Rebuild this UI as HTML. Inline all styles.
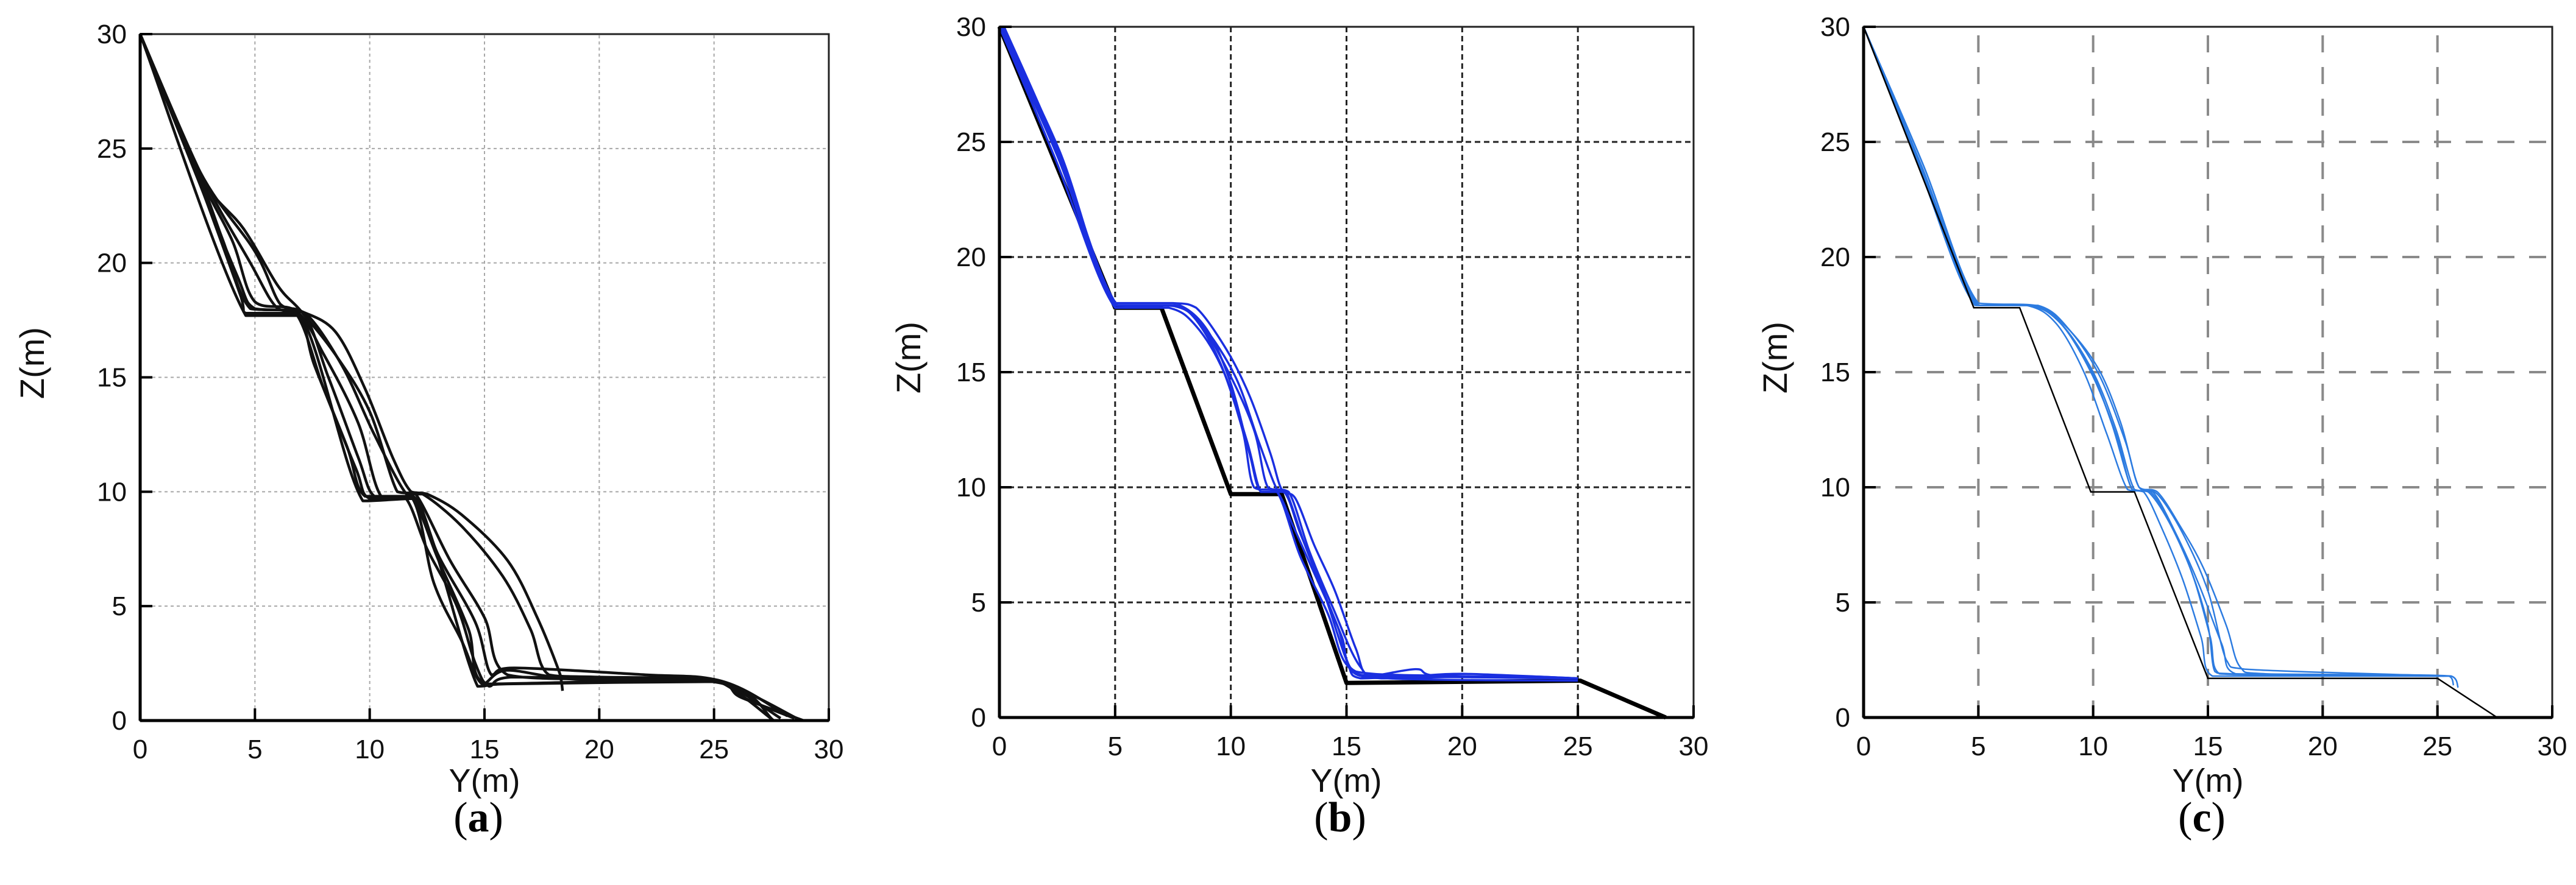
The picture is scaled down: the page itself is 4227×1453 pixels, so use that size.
<!DOCTYPE html>
<html><head><meta charset="utf-8">
<style>
html,body{margin:0;padding:0;background:#fff;}
svg{display:block;}
.sans{font-family:"Liberation Sans",Arial,sans-serif;}
.serif{font-family:"Liberation Serif",serif;}
</style></head>
<body>
<svg id="fig" width="4227" height="1453" viewBox="0 0 4227 1453" xmlns="http://www.w3.org/2000/svg"></svg>
<script>
const xTicks = [0,5,10,15,20,25,30];
const yTicks = [0,5,10,15,20,25,30];
const panelLabels = ["a","b","c"];

const runsA = [
 [[0,30],[4.6,17.7],[7,17.7],[9.7,9.6],[12,9.7],[14.7,1.5],[16,1.6],[25,1.7],[27.6,0]],
 [[0,30],[2.5,24],[4,21],[5,18.3],[6.8,17.9],[8,16],[9.5,13],[10.5,9.8],[11.8,9.8],[13,7],[14.3,4],[15,1.6],[20,1.7],[25,1.8],[28.2,0.2]],
 [[0,30],[2.5,24],[4.5,21.5],[6,19],[7,17.9],[8.5,16],[10,13.5],[11.2,10],[12,9.9],[13.5,7],[15,4.5],[16,2],[20,1.8],[24.8,1.8],[28.8,0]],
 [[0,30],[2.6,24],[5,20.5],[6.1,18.2],[7,17.9],[8.5,17],[9.8,14.5],[11,11.5],[11.8,10],[12.5,9.9],[14,9],[16,7],[17.3,4.5],[18.3,2],[18.4,1.3]],
 [[0,30],[2.6,24],[4.8,20],[6,18],[7.2,17.8],[8.8,15.5],[10.2,12.5],[11.6,9.9],[12.3,9.9],[14,8.5],[15.8,6.3],[17,4],[17.8,2],[20,1.9],[24.8,1.8],[26.5,0.9],[28.5,0.1]],
 [[0,30],[2.3,24.2],[4.2,19.5],[5,18],[7,17.9],[8.2,15],[9.5,11.5],[10.2,9.8],[11.5,9.8],[12.5,7.5],[13.8,5],[14.6,2.5],[15.2,1.5],[16.2,1.9],[22,1.8],[25,1.8],[27.9,0.1]],
 [[0,30],[2.4,24],[4.4,18.5],[4.6,17.8],[6.8,17.8],[7.6,15.5],[9,12],[9.8,9.8],[11.8,9.8],[12.8,6],[14,3.5],[14.9,1.6],[16,2.2],[19,1.8],[24.9,1.7],[26.2,1],[28.9,0]],
 [[0,30],[2.5,24],[3.6,21],[4.8,18],[6.7,17.9],[8,14.5],[9.4,11],[10,9.7],[11.9,9.8],[13,7.2],[14.6,4.3],[15.3,2],[16.3,2.3],[22,2],[25,1.8],[27.6,0]]
];
const refB = [[0,30],[5,17.8],[7,17.8],[10,9.7],[12.2,9.7],[15,1.5],[25.1,1.6],[28.8,0]];
const runsB = [
 [[0.1,30],[2.5,24.5],[5,17.9],[6.5,17.9],[7.8,17.9],[9,16.8],[10,14.5],[10.8,11.5],[11.3,9.8],[12.3,9.8],[13,8],[14,5.5],[15,2.5],[15.6,1.7],[18,1.8],[20,1.9],[25,1.7]],
 [[0.2,30],[2.6,24.5],[5,18],[7.5,18],[8.5,17.8],[9.8,16],[10.8,14],[11.7,11.5],[12.2,9.9],[12.8,9.5],[13.6,7.5],[14.5,5.5],[15.4,3],[16,1.8],[18,2.1],[19,1.8],[25,1.7]],
 [[0,30],[2.4,24.3],[5,17.8],[7.2,17.9],[8.3,17.5],[9.5,15.5],[10.5,12.5],[11,10],[12,9.8],[13,7],[14.2,4.5],[15,2.3],[16.5,1.7],[22,1.8],[25,1.7]],
 [[0,30],[2.5,24.4],[5,17.9],[7.4,17.9],[8.6,17.2],[9.9,15],[11,12.5],[11.6,10],[12.5,9.8],[13.4,7.2],[14.4,4.8],[15.6,2.2],[16.8,1.7],[25,1.6]],
 [[0.1,30],[2.6,24.4],[5.1,17.9],[7.6,17.9],[8.8,17],[10.2,14.8],[11.2,12],[12,9.9],[12.4,9.8],[13.2,7.5],[14,5.5],[14.8,3.5],[15.4,2],[20,1.8],[25,1.7]],
 [[0,30],[2.6,24.6],[5,17.8],[7.3,17.8],[8.5,17],[9.7,15],[10.7,12],[11.3,9.8],[12,9.8],[12.7,8.3],[13.5,6.5],[14.6,4],[15.3,2],[17,1.8],[25,1.7]]
];
const refC = [[0,30],[4.8,17.8],[6.8,17.8],[9.9,9.8],[11.8,9.8],[15,1.7],[25,1.7],[27.6,0]];
const runsC = [
 [[0,30],[2.5,23.8],[4.9,17.9],[7.2,17.9],[8.5,17.2],[9.8,15.3],[10.8,12.8],[11.7,9.9],[12.4,9.8],[13.3,8.5],[14.3,6.3],[15,4],[15.3,2],[16,1.9],[25.5,1.8],[25.7,1.4]],
 [[0,30],[2.6,24],[5,18],[7.5,17.9],[8.8,17],[10.2,15.2],[11.2,12.8],[12,10],[12.8,9.8],[13.8,8.3],[14.8,6.5],[15.8,4],[16.4,2.2],[17.5,1.9],[25.6,1.8],[25.9,1.3]],
 [[0,30],[2.55,23.9],[4.95,17.9],[7.3,17.9],[8.6,17.1],[9.9,15],[11,12.3],[11.7,9.9],[12.5,9.8],[13.5,8.2],[14.4,6],[15.1,3.5],[15.5,1.9],[25.4,1.8]],
 [[0,30],[2.5,23.9],[4.9,17.9],[7.4,17.9],[8.7,17],[10,15],[11,12.5],[11.8,9.9],[12.6,9.8],[13.6,8],[14.6,5.8],[15.6,3.2],[16.2,1.9],[25.5,1.8]],
 [[0,30],[2.45,23.8],[4.85,17.9],[7.1,17.9],[8.4,17.1],[9.6,15],[10.6,12.3],[11.5,9.9],[12.2,9.8],[13,8.2],[13.9,6],[14.7,3.5],[15.2,1.8],[25.3,1.8]],
 [[0,30],[2.6,24],[5,17.9],[7.6,17.9],[9,16.8],[10.3,14.8],[11.4,12],[12,10],[12.8,9.7],[13.9,8],[15,5.5],[15.8,2.5],[16.6,2.1],[25.6,1.8]]
];

const NS = "http://www.w3.org/2000/svg";
const svg = document.getElementById("fig");
function mk(tag, attrs, parent){
  const e = document.createElementNS(NS, tag);
  for (const k in attrs) e.setAttribute(k, attrs[k]);
  (parent||svg).appendChild(e);
  return e;
}
const panels = [
 {x0:230,x1:1360,y0:1183,y1:56,zx:52,zy:596,grid:{stroke:"#a8a8a8",w:2,dash:"5 5"},lab:795},
 {x0:1640,x1:2779,y0:1178,y1:44,zx:1490,zy:587,grid:{stroke:"#222",w:3,dash:"9 6"},lab:2209},
 {x0:3058,x1:4188,y0:1178,y1:44,zx:2912,zy:587,grid:{stroke:"#8a8a8a",w:4,dash:"28 24"},lab:3623}
];
function axX(p,v){return p.x0+(p.x1-p.x0)*v/30;}
function axY(p,v){return p.y0-(p.y0-p.y1)*v/30;}
function pathD(p,pts){return pts.map((q,i)=>(i?"L":"M")+axX(p,q[0]).toFixed(1)+" "+axY(p,q[1]).toFixed(1)).join(" ");}
function clamp(v,a,b){const lo=Math.min(a,b),hi=Math.max(a,b);return Math.max(lo,Math.min(hi,v));}
function smoothD(p,pts){
  const P = pts.map(q=>[axX(p,q[0]),axY(p,q[1])]);
  let d = "M"+P[0][0].toFixed(1)+" "+P[0][1].toFixed(1);
  for(let i=0;i<P.length-1;i++){
    const a=P[Math.max(0,i-1)], b=P[i], c=P[i+1], e=P[Math.min(P.length-1,i+2)];
    const t=1/6;
    const c1=[clamp(b[0]+(c[0]-a[0])*t,b[0],c[0]), clamp(b[1]+(c[1]-a[1])*t,b[1],c[1])];
    const c2=[clamp(c[0]-(e[0]-b[0])*t,b[0],c[0]), clamp(c[1]-(e[1]-b[1])*t,b[1],c[1])];
    d+=" C"+c1[0].toFixed(1)+" "+c1[1].toFixed(1)+" "+c2[0].toFixed(1)+" "+c2[1].toFixed(1)+" "+c[0].toFixed(1)+" "+c[1].toFixed(1);
  }
  return d;
}

panels.forEach((p,pi)=>{
  const g = mk("g",{});
  
  
  xTicks.forEach(t=>{
    if(t===0||t===30) return;
    const l = mk("line",{x1:axX(p,t),x2:axX(p,t),y1:p.y0,y2:p.y1,stroke:p.grid.stroke,"stroke-width":p.grid.w,"stroke-dasharray":p.grid.dash},g);
    
    
  });
  yTicks.forEach(t=>{
    if(t===0||t===30) return;
    const l = mk("line",{x1:p.x0,x2:p.x1,y1:axY(p,t),y2:axY(p,t),stroke:p.grid.stroke,"stroke-width":p.grid.w,"stroke-dasharray":p.grid.dash},g);
    
    
  });
  let runs, ref=null, runColor, runW;
  if(pi===0){runs=runsA; runColor="#111"; runW=4.5;}
  if(pi===1){runs=runsB; ref=refB; runColor="#1a2fe0"; runW=3.5;}
  if(pi===2){runs=runsC; ref=refC; runColor="#2c7be0"; runW=2.5;}
  if(pi===1){
    const r = mk("path",{d:pathD(p,ref),fill:"none",stroke:"#000","stroke-width":7,"stroke-linejoin":"round"},g);
    
    
  }
  runs.forEach((run,ri)=>{
    const s = mk("path",{d:smoothD(p,run),fill:"none",stroke:runColor,"stroke-width":runW,"stroke-linejoin":"round"},g);
    
    
  });
  if(pi===2){
    const r = mk("path",{d:pathD(p,ref),fill:"none",stroke:"#000","stroke-width":2.5},g);
    
    
  }
  const f = mk("rect",{x:p.x0,y:p.y1,width:p.x1-p.x0,height:p.y0-p.y1,fill:"none",stroke:"#222","stroke-width":3},g);
  
  
  const ax = mk("line",{x1:p.x0,x2:p.x1,y1:p.y0,y2:p.y0,stroke:"#000","stroke-width":5},g);
  
  
  const ay = mk("line",{x1:p.x0,x2:p.x0,y1:p.y0,y2:p.y1,stroke:"#000","stroke-width":5},g);
  
  
  xTicks.forEach(t=>{
    const tk = mk("line",{x1:axX(p,t),x2:axX(p,t),y1:p.y0,y2:p.y0-20,stroke:"#000","stroke-width":4},g);
    
    
    const tx = mk("text",{x:axX(p,t),y:p.y0+62,"font-size":44,"text-anchor":"middle",fill:"#111",class:"sans"},g);
    tx.textContent = t;
    
    
  });
  yTicks.forEach(t=>{
    const tk = mk("line",{x1:p.x0,x2:p.x0+20,y1:axY(p,t),y2:axY(p,t),stroke:"#000","stroke-width":4},g);
    
    
    const tx = mk("text",{x:p.x0-22,y:axY(p,t)+15,"font-size":44,"text-anchor":"end",fill:"#111",class:"sans"},g);
    tx.textContent = t;
    
    
  });
  const xt = mk("text",{x:p.lab,y:1300,"font-size":54,"text-anchor":"middle",fill:"#111",class:"sans"},g);
  xt.textContent = "Y(m)";
  
  
  const yt = mk("text",{x:p.zx,y:p.zy,"font-size":56,"text-anchor":"middle",fill:"#111",class:"sans",transform:"rotate(-90 "+p.zx+" "+p.zy+")",dy:"20"},g);
  yt.textContent = "Z(m)";
  
  
  const pl = mk("text",{x:p.lab-10,y:1365,"font-size":70,"text-anchor":"middle",fill:"#000",class:"serif"},g);
  pl.innerHTML = '(<tspan font-weight="bold">'+panelLabels[pi]+'</tspan>)';
  
  
});
</script>
</body></html>
